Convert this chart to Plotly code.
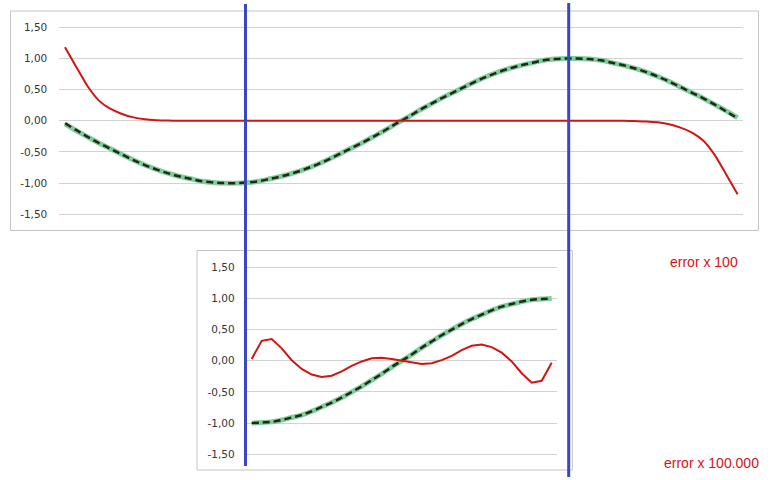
import plotly.graph_objects as go

# ---------------- data ----------------
# top chart: 60 samples over one full period
top_x = list(range(60))
top_sine = [-0.05, -0.16, -0.26, -0.36, -0.45, -0.54, -0.63, -0.71, -0.78, -0.84,
            -0.89, -0.93, -0.97, -0.99, -1.00, -1.00, -0.99, -0.97, -0.93, -0.89,
            -0.84, -0.78, -0.71, -0.63, -0.54, -0.45, -0.36, -0.26, -0.16, -0.05,
            0.05, 0.16, 0.26, 0.36, 0.45, 0.54, 0.63, 0.71, 0.78, 0.84,
            0.89, 0.93, 0.97, 0.99, 1.00, 1.00, 0.99, 0.97, 0.93, 0.89,
            0.84, 0.78, 0.71, 0.63, 0.54, 0.45, 0.36, 0.26, 0.16, 0.05]
top_approx = [-0.04, -0.15, -0.26, -0.36, -0.45, -0.54, -0.63, -0.71, -0.78, -0.84,
              -0.89, -0.93, -0.97, -0.99, -1.00, -1.00, -0.99, -0.97, -0.93, -0.89,
              -0.84, -0.78, -0.71, -0.63, -0.54, -0.45, -0.36, -0.26, -0.16, -0.05,
              0.05, 0.16, 0.26, 0.36, 0.45, 0.54, 0.63, 0.71, 0.78, 0.84,
              0.89, 0.93, 0.97, 0.99, 1.00, 1.00, 0.99, 0.97, 0.93, 0.89,
              0.84, 0.78, 0.71, 0.63, 0.54, 0.45, 0.36, 0.26, 0.15, 0.04]
top_error_x100 = [1.18, 0.86, 0.55, 0.32, 0.19, 0.11, 0.055, 0.025, 0.01, 0.005,
                  0.0, 0.0, 0.0, 0.0, 0.0, 0.0, 0.0, 0.0, 0.0, 0.0,
                  0.0, 0.0, 0.0, 0.0, 0.0, 0.0, 0.0, 0.0, 0.0, 0.0,
                  0.0, 0.0, 0.0, 0.0, 0.0, 0.0, 0.0, 0.0, 0.0, 0.0,
                  0.0, 0.0, 0.0, 0.0, 0.0, 0.0, 0.0, 0.0, 0.0, 0.0,
                  -0.005, -0.01, -0.025, -0.055, -0.11, -0.19, -0.32, -0.55, -0.86, -1.18]

# bottom chart: 31 samples over a half period
bot_x = list(range(31))
bot_sine = [-1.00, -0.99, -0.98, -0.95, -0.91, -0.87, -0.81, -0.74, -0.67, -0.59,
            -0.50, -0.41, -0.31, -0.21, -0.10, 0.00, 0.10, 0.21, 0.31, 0.41,
            0.50, 0.59, 0.67, 0.74, 0.81, 0.87, 0.91, 0.95, 0.98, 0.99, 1.00]
bot_approx = bot_sine
bot_error_x100000 = [0.03, 0.32, 0.35, 0.20, 0.01, -0.13, -0.22, -0.26, -0.24, -0.17,
                     -0.08, -0.01, 0.04, 0.05, 0.03, 0.00, -0.03, -0.05, -0.04, 0.01,
                     0.08, 0.17, 0.24, 0.26, 0.22, 0.13, -0.01, -0.20, -0.35, -0.32, -0.03]

tick_vals = [-1.5, -1.0, -0.5, 0.0, 0.5, 1.0, 1.5]
tick_text = ["-1,50", "-1,00", "-0,50", "0,00", "0,50", "1,00", "1,50"]

label_top = "error x 100"
label_bot = "error x 100.000"

# ---------------- layout helpers ----------------
W, H = 772, 480
def px_x(p):
    return p / W
def px_y(p):
    return 1 - p / H

GREEN = "#7ccf9c"
DASH = "#262612"
RED = "#d41414"
BLUE = "#3a46c2"
GRID = "#d2d2d2"
FRAME = "#c4c4c4"

fig = go.Figure()

def add_set(x, sine, approx, err, xa, ya, shape, smooth):
    fig.add_trace(go.Scatter(x=x, y=sine, mode="lines", xaxis=xa, yaxis=ya,
                             line=dict(color=GREEN, width=5, shape="spline", smoothing=1),
                             showlegend=False, hoverinfo="skip"))
    fig.add_trace(go.Scatter(x=x, y=approx, mode="lines", xaxis=xa, yaxis=ya,
                             line=dict(color=DASH, width=2.5, dash="7px,4px",
                                       shape="spline", smoothing=1),
                             showlegend=False, hoverinfo="skip"))
    fig.add_trace(go.Scatter(x=x, y=err, mode="lines", xaxis=xa, yaxis=ya,
                             line=dict(color=RED, width=2, shape=shape, smoothing=smooth),
                             showlegend=False, hoverinfo="skip"))

add_set(top_x, top_sine, top_approx, top_error_x100, "x", "y", "spline", 0.6)
add_set(bot_x, bot_sine, bot_approx, bot_error_x100000, "x2", "y2", "linear", 1)

# y mapping: zero at 120.8 px (top) / 360.8 px (bottom), 62.33 px per unit
scale = 62.33
yr = 1.62
def ydom(zero):
    return [px_y(zero + yr * scale), px_y(zero - yr * scale)]

yaxis_common = dict(range=[-yr, yr], tickvals=tick_vals, ticktext=tick_text,
                    showgrid=True, gridcolor=GRID, gridwidth=1.3, zeroline=False,
                    showline=False, ticks="", fixedrange=True, ticklabelstandoff=11,
                    tickfont=dict(family="DejaVu Sans", size=10.5, color="#353535"))
xaxis_common = dict(showgrid=False, zeroline=False, showline=False,
                    showticklabels=False, ticks="", fixedrange=True)

fig.update_layout(
    width=W, height=H,
    margin=dict(l=0, r=0, t=0, b=0),
    paper_bgcolor="white", plot_bgcolor="rgba(0,0,0,0)",
    xaxis=dict(domain=[px_x(59.3), px_x(743.3)], range=[-0.5, 59.5], anchor="y", **xaxis_common),
    yaxis=dict(domain=ydom(120.8), anchor="x", **yaxis_common),
    xaxis2=dict(domain=[px_x(246.7), px_x(556.7)], range=[-0.5, 30.5], anchor="y2", **xaxis_common),
    yaxis2=dict(domain=ydom(360.8), anchor="x2", **yaxis_common),
)

shapes = [
    # chart frames
    dict(type="rect", xref="paper", yref="paper", x0=px_x(10.5), x1=px_x(758.5),
         y0=px_y(230.5), y1=px_y(11), line=dict(color=FRAME, width=1), layer="below"),
    dict(type="rect", xref="paper", yref="paper", x0=px_x(197), x1=px_x(572.3),
         y0=px_y(470), y1=px_y(250.5), line=dict(color=FRAME, width=1), layer="below"),
    # vertical markers
    dict(type="line", xref="paper", yref="paper", x0=px_x(245.5), x1=px_x(245.5),
         y0=px_y(466), y1=px_y(4), line=dict(color=BLUE, width=3)),
    dict(type="line", xref="paper", yref="paper", x0=px_x(568.7), x1=px_x(568.7),
         y0=px_y(477), y1=px_y(3), line=dict(color=BLUE, width=3)),
]
fig.update_layout(shapes=shapes)

fig.add_annotation(text=label_top, xref="paper", yref="paper", x=px_x(703.5), y=px_y(262),
                   showarrow=False, xanchor="center", yanchor="middle",
                   font=dict(family="Liberation Sans", size=14, color=RED))
fig.add_annotation(text=label_bot, xref="paper", yref="paper", x=px_x(711), y=px_y(463),
                   showarrow=False, xanchor="center", yanchor="middle",
                   font=dict(family="Liberation Sans", size=14, color=RED))

fig.write_html("out.html", config={"displayModeBar": False},
               post_script="document.body.style.margin='0';document.body.style.overflow='hidden';")
